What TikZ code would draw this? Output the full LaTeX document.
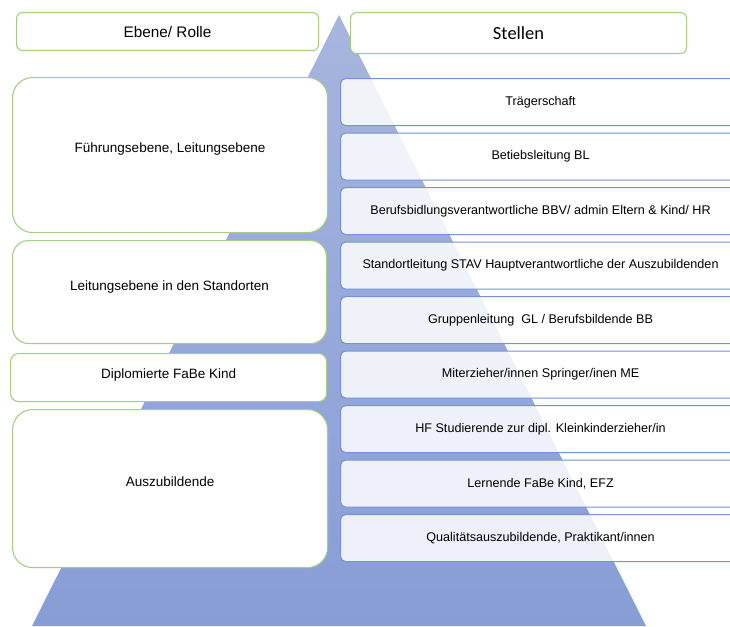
\documentclass[tikz,border=0pt]{standalone}
\usepackage{fontspec}
\setmainfont{Liberation Sans}
\newfontfamily\carlito{Carlito}
\begin{document}
\begin{tikzpicture}[x=1pt,y=-1pt,
  leftbox/.style={draw=lgreen, line width=1.1pt, fill=white, anchor=north west, inner sep=0pt, font=\fontsize{13.5}{15}\selectfont},
  rightbox/.style={draw=rblue, line width=1.1pt, fill=white, fill opacity=0.85, text opacity=1, rounded corners=5pt, anchor=north west, inner sep=0pt, minimum width=400pt, minimum height=47pt, font=\fontsize{12.6}{14}\selectfont},
]
\definecolor{lgreen}{HTML}{A6CC8A}
\definecolor{rblue}{HTML}{7393D6}
\definecolor{tritop}{HTML}{A7B5DE}
\definecolor{tribot}{HTML}{879DD5}
\useasboundingbox (0,0) rectangle (730,626);
\clip (0,0) rectangle (730,626);
% pyramid
\coordinate (apex) at (339,15);
\coordinate (bl) at (32,626);
\coordinate (br) at (646,626);
\shade[top color=tritop, bottom color=tribot] (apex) -- (bl) -- (br) -- cycle;
% headers
\node[leftbox, rounded corners=6pt, minimum width=302pt, minimum height=38pt, font=\fontsize{15.3}{17}\selectfont] (hEbene) at (16,12) {Ebene/ Rolle};
\node[leftbox, rounded corners=6pt, minimum width=336pt, minimum height=41pt, font=\carlito\fontsize{18.5}{20}\selectfont] (hStellen) at (350,12) {Stellen};
% left boxes
\node[leftbox, rounded corners=20pt, minimum width=315pt, minimum height=155pt] (L1) at (12,77) {\raisebox{14pt}{Führungsebene, Leitungsebene}};
\node[leftbox, rounded corners=16pt, minimum width=314pt, minimum height=103pt] (L2) at (12,240) {\raisebox{12pt}{Leitungsebene in den Standorten}};
\node[leftbox, rounded corners=8pt, minimum width=316pt, minimum height=48pt] (L3) at (10,353) {\raisebox{7pt}{Diplomierte FaBe Kind}};
\node[leftbox, rounded corners=20pt, minimum width=315pt, minimum height=158pt] (L4) at (12,409) {\raisebox{14pt}{Auszubildende}};
% right boxes
\node[rightbox] (R1) at (340,78) {Trägerschaft};
\node[rightbox] (R2) at (340,132.5) {Betiebsleitung BL};
\node[rightbox] (R3) at (340,187) {Berufsbidlungsverantwortliche BBV/ admin Eltern \& Kind/ HR};
\node[rightbox] (R4) at (340,241.5) {Standortleitung STAV Hauptverantwortliche der Auszubildenden};
\node[rightbox] (R5) at (340,296) {Gruppenleitung\ \ GL / Berufsbildende BB};
\node[rightbox] (R6) at (340,350.5) {Miterzieher/innen Springer/inen ME};
\node[rightbox] (R7) at (340,405) {HF Studierende zur dipl. Kleinkinderzieher/in};
\node[rightbox] (R8) at (340,459.5) {Lernende FaBe Kind, EFZ};
\node[rightbox] (R9) at (340,514) {Qualitätsauszubildende, Praktikant/innen};
\end{tikzpicture}
\end{document}
